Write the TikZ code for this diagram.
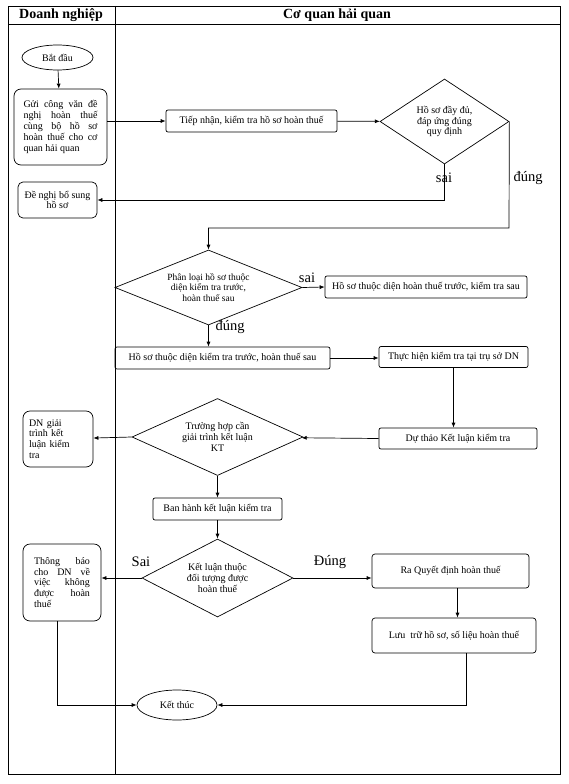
\documentclass[tikz,border=0pt]{standalone}
\usepackage{fontspec}
\setmainfont{Liberation Serif}
\usetikzlibrary{shapes.geometric,arrows.meta}
\newcommand{\bsize}{\fontsize{10}{10.8}\selectfont}
\newcommand{\lsize}{\fontsize{14.5}{16}\selectfont}

\begin{document}
\begin{tikzpicture}[x=1pt,y=-1pt,line width=0.7pt,
    >={Latex[length=5pt,width=4pt]},
    box/.style={draw,rounded corners=2pt,inner sep=1pt,font=\bsize,align=center},
    lbox/.style={draw,rounded corners=7pt,inner sep=0pt,font=\bsize},
    dia/.style={draw,diamond,inner sep=0pt,font=\bsize,align=center},
    term/.style={draw,ellipse,inner sep=0pt,font=\bsize},
    lab/.style={font=\lsize},
    lanetitle/.style={font=\bfseries\fontsize{14}{16}\selectfont}]
  \useasboundingbox (0,0) rectangle (568,784);
  % lanes
  \draw[line width=0.9pt] (8,6) rectangle (560,774);
  \draw[line width=0.9pt] (8,24) -- (560,24);
  \draw[line width=0.9pt] (115,6) -- (115,774);
  \node[lanetitle] (dn) at (61,15) {Doanh nghiệp};
  \node[lanetitle] (hq) at (337,15) {Cơ quan hải quan};
  % steps
  \node[term,minimum width=71pt,minimum height=25pt] (start) at (57.5,57.5) {Bắt đầu};
  \node[lbox,minimum width=93pt,minimum height=76pt,text width=74pt,align=justify] (gui) at (60.5,127)
    {Gửi công văn đề\linebreak nghị hoàn thuế\linebreak cùng bộ hồ sơ\linebreak hoàn thuế cho cơ\linebreak quan hải quan};
  \node[box,minimum width=171pt,minimum height=22pt] (tiep) at (251.5,121) {Tiếp nhận, kiểm tra hồ sơ hoàn thuế};
  \node[dia,minimum width=129pt,minimum height=85pt,aspect=1.52] (d1) at (444.5,121.5) {Hồ sơ đầy đủ,\\ đáp ứng đúng\\ quy định};
  \node[lbox,rounded corners=5pt,minimum width=79pt,minimum height=36pt,align=center] (bosung) at (57.5,200) {Đề nghị bổ sung\\ hồ sơ};
  \node[dia,minimum width=187pt,minimum height=75pt,aspect=2.5,font=\fontsize{9.5}{10.5}\selectfont] (d2) at (208.5,287.5)
    {Phân loại hồ sơ thuộc\\ diện kiểm tra trước,\\ hoàn thuế sau};
  \node[box,minimum width=202pt,minimum height=22pt] (hoantr) at (426,287) {Hồ sơ thuộc diện hoàn thuế trước, kiểm tra sau};
  \node[box,minimum width=215pt,minimum height=22pt] (kiemtr) at (222.5,358) {Hồ sơ thuộc diện kiểm tra trước, hoàn thuế sau};
  \node[box,minimum width=149pt,minimum height=21pt] (thuchien) at (453.5,357) {Thực hiện kiểm tra tại trụ sở DN};
  \node[box,minimum width=158pt,minimum height=21pt] (duthao) at (458,438.5) {Dự thảo Kết luận kiểm tra};
  \node[dia,minimum width=171pt,minimum height=77pt,aspect=2.2] (d3) at (217.5,437) {Trường hợp cần\\ giải trình kết luận\\ KT};
  \node[lbox,minimum width=70pt,minimum height=56pt,text width=58pt,align=left] (giaitr) at (58,439) {DN giải\\ trình kết\\ luận kiểm\\ tra};
  \node[box,minimum width=129pt,minimum height=22pt] (banhanh) at (217.5,509) {Ban hành kết luận kiểm tra};
  \node[dia,minimum width=151pt,minimum height=78pt,aspect=1.94] (d4) at (217.5,578) {Kết luận thuộc\\ đối tượng được\\ hoàn thuế};
  \node[lbox,minimum width=78pt,minimum height=77pt,text width=56pt,align=justify] (thongbao) at (62,582.5)
    {Thông báo\linebreak cho DN về\linebreak việc không\linebreak được hoàn\linebreak thuế};
  \node[box,rounded corners=3pt,minimum width=157pt,minimum height=34pt] (raqd) at (450.5,571) {Ra Quyết định hoàn thuế};
  \node[box,rounded corners=3pt,minimum width=164pt,minimum height=35pt] (luutru) at (454,635.5) {Lưu\ \ trữ hồ sơ, số liệu hoàn thuế};
  \node[term,minimum width=80pt,minimum height=30pt] (ketthuc) at (177,705) {Kết thúc};
  % branch labels
  \node[lab] (sai1) at (444,178) {sai};
  \node[lab,anchor=west] (dung1) at (510,178) {đúng};
  \node[lab] (sai2) at (307,278) {sai};
  \node[lab,anchor=west] (dung2) at (212,327) {đúng};
  \node[lab] (sai3) at (141,562) {Sai};
  \node[lab] (dung3) at (330,562) {Đúng};
  % connectors
  \draw[->] (start) -- (gui);
  \draw[->] (gui.east |- tiep) -- (tiep);
  \draw[->] (tiep) -- (d1);
  \draw[->] (d1.south) |- (bosung.east);
  \coordinate (dbend) at (509,228);
  \draw[->] (d1.east) -- (dbend) -| (d2.north);
  \draw[->] (d2.east) -- (hoantr.west);
  \draw[->] (d2.south) -- (d2.south |- kiemtr.north);
  \draw[->] (kiemtr.east) -- (kiemtr.east -| thuchien.west);
  \draw[->] (thuchien.south) -- (thuchien.south |- duthao.north);
  \draw[->] (duthao.west) -- (d3);
  \draw[->] (d3.west) -- (giaitr);
  \draw[->] (d3) -- (banhanh);
  \draw[->] (banhanh) -- (d4);
  \draw[->] (d4.west) -- (d4.west -| thongbao.east);
  \draw[->] (d4.east) -- (d4.east -| raqd.west);
  \draw[->] ([xshift=7pt]raqd.south) -- ([xshift=7pt]raqd.south |- luutru.north);
  \draw[->] ([xshift=12pt]luutru.south) |- (ketthuc.east);
  \draw[->] ([xshift=-5pt]thongbao.south) |- (ketthuc.west);
\end{tikzpicture}
\end{document}
